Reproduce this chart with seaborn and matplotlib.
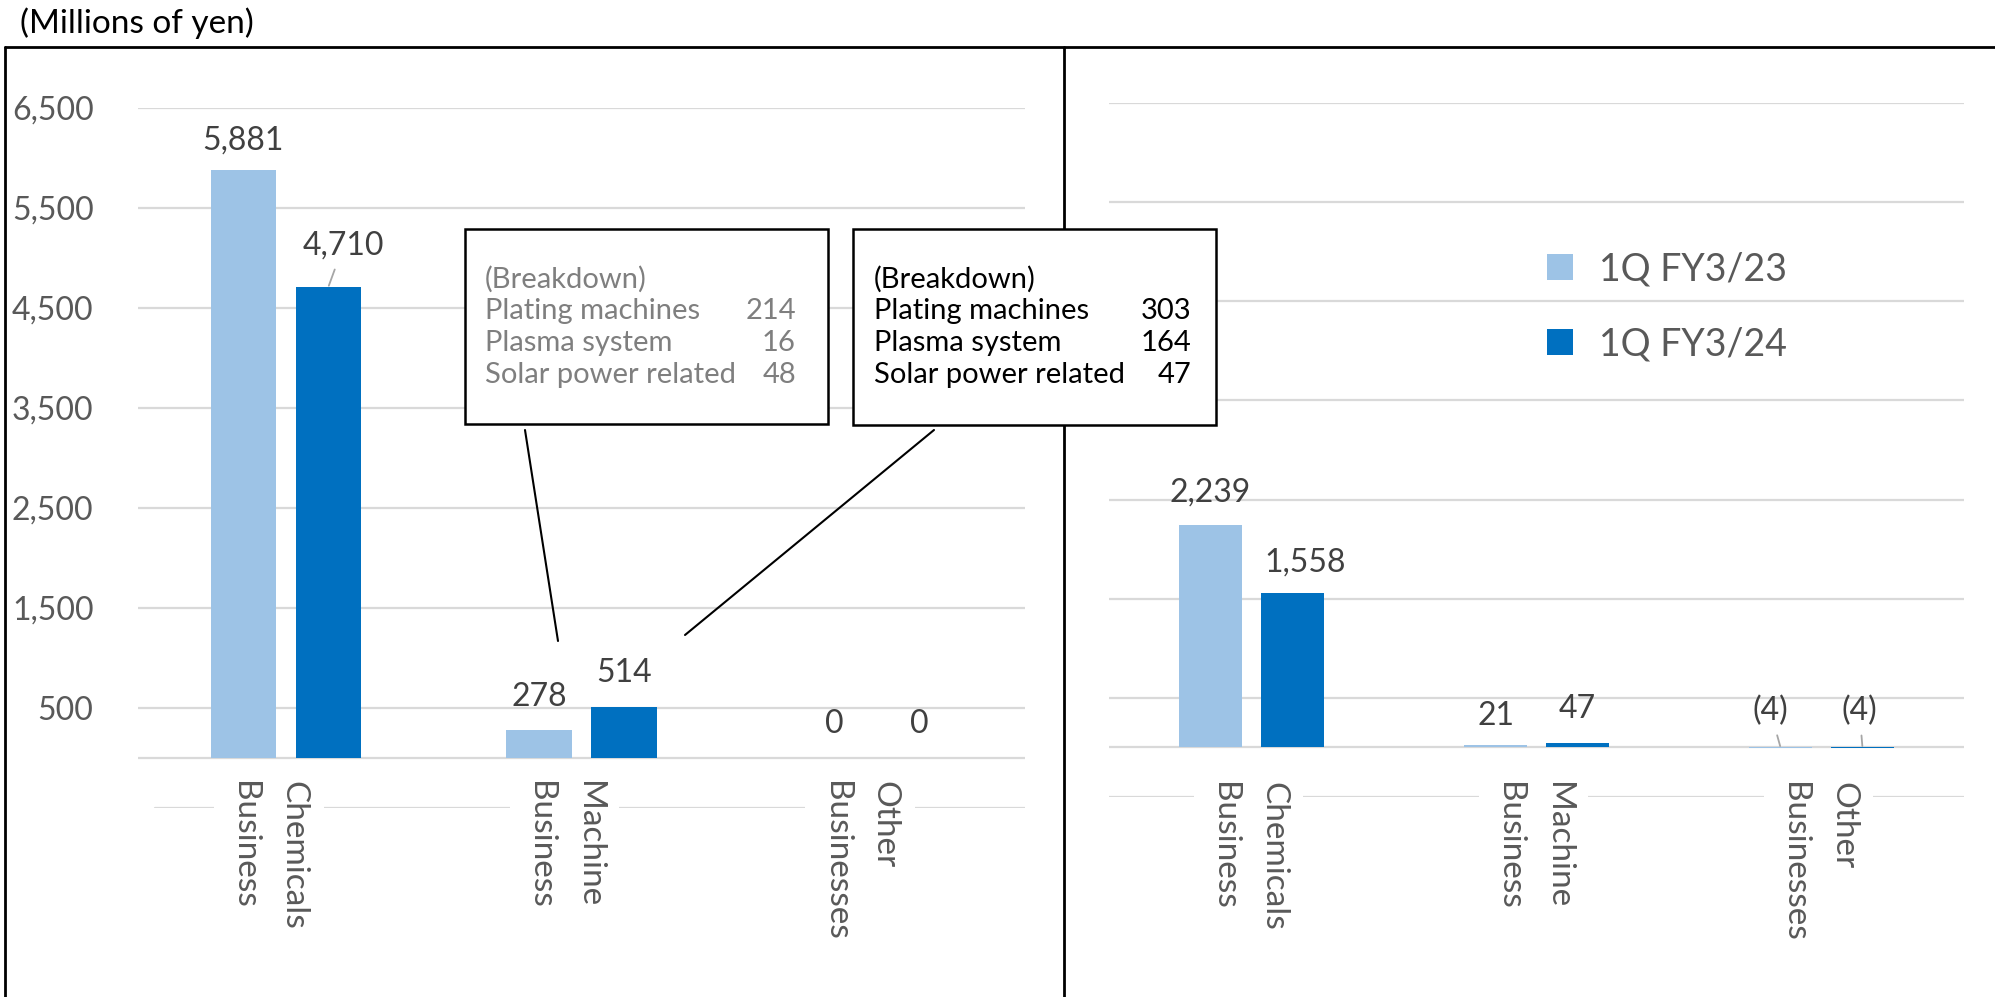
import matplotlib
matplotlib.use("Agg")
import matplotlib.pyplot as plt
from matplotlib.lines import Line2D
from matplotlib.patches import Rectangle
import seaborn as sns
import pandas as pd

# ---------------- data ----------------
segments = ["Chemicals\nBusiness", "Machine\nBusiness", "Other\nBusinesses"]
periods = ["1Q FY3/23", "1Q FY3/24"]
left_prev = [5881, 278, 0]
left_curr = [4710, 514, 0]
right_prev = [2239, 21, -4]
right_curr = [1558, 47, -4]
yticks = [500, 1500, 2500, 3500, 4500, 5500, 6500]
breakdown_items = ["Plating machines", "Plasma system", "Solar power related"]
breakdown_prev = [214, 16, 48]
breakdown_curr = [303, 164, 47]
unit_label = "(Millions of yen)"
breakdown_title = "(Breakdown)"

# ---------------- style ----------------
LIGHT = "#9DC3E6"
DARK = "#0070C0"
GRID = "#D9D9D9"
TICK = "#595959"
LABEL = "#404040"

sns.set_theme(style="white")
plt.rcParams["font.family"] = ["Lato", "DejaVu Sans"]

W, H = 1995, 997
fig = plt.figure(figsize=(W / 100, H / 100), dpi=100)


def px_rect(l, t, r, b):
    return [l / W, 1 - b / H, (r - l) / W, (b - t) / H]


def fx(x):
    return x / W


def fy(y):
    return 1 - y / H


axL = fig.add_axes(px_rect(138, 108, 1025, 808))
axR = fig.add_axes(px_rect(1109, 103, 1964, 797))


def fmt(v):
    return f"({abs(v):,})" if v < 0 else f"{v:,}"


def draw_panel(ax, prev, curr, show_ticks, show_legend, offsets, lower_xmin,
               cat_dx, cat_dy):
    df = pd.DataFrame({
        "segment": segments * 2,
        "period": [periods[0]] * len(segments) + [periods[1]] * len(segments),
        "value": prev + curr,
    })
    sns.barplot(data=df, x="segment", y="value", hue="period",
                order=segments, hue_order=periods, palette=[LIGHT, DARK],
                width=0.575, gap=0.23, linewidth=0, saturation=1,
                errorbar=None, ax=ax, legend=show_legend, zorder=2)
    ax.set_ylim(-500, 6500)
    ax.set_xlim(-0.5, len(segments) - 0.5)
    ax.set_yticks(yticks)
    ax.yaxis.grid(True, color=GRID, lw=1.6)
    ax.xaxis.grid(False)
    ax.set_axisbelow(True)
    for s in ax.spines.values():
        s.set_visible(False)
    ax.set_xlabel("")
    ax.set_ylabel("")
    ax.tick_params(axis="x", length=0, labelbottom=False)
    ax.tick_params(axis="y", length=0, labelleft=show_ticks, labelsize=23,
                   labelcolor=TICK, pad=32)
    if show_ticks:
        ax.set_yticklabels([f"{t:,}" for t in yticks])
    ax.axhline(0, color=GRID, lw=1.6, zorder=1)
    ax.axhline(-500, xmin=lower_xmin, color=GRID, lw=1.6, zorder=1)

    # category labels
    for i, seg in enumerate(segments):
        ax.annotate(seg, xy=(i, -500), xycoords="data",
                    xytext=(cat_dx * 0.72, cat_dy * 0.72), textcoords="offset points",
                    rotation=270, ha="center", va="top", multialignment="left",
                    fontsize=24, color=TICK, linespacing=1.8,
                    bbox=dict(fc="white", ec="none", pad=11),
                    zorder=3, annotation_clip=False)

    # data labels
    values = [prev, curr]
    for j, cont in enumerate(ax.containers):
        for i, patch in enumerate(cont):
            cx = patch.get_x() + patch.get_width() / 2
            top = max(patch.get_y(), patch.get_y() + patch.get_height())
            dx, dy, leader = offsets.get((j, i), (0, -32, False))
            kw = {}
            if leader:
                kw["arrowprops"] = dict(arrowstyle="-", color="#A6A6A6", lw=1.3,
                                        shrinkA=4, shrinkB=1)
            ax.annotate(fmt(values[j][i]), xy=(cx, top), xycoords="data",
                        xytext=(dx * 0.72, -dy * 0.72), textcoords="offset points",
                        ha="center", va="center", fontsize=23, color=LABEL,
                        annotation_clip=False, **kw)


left_offsets = {
    (0, 0): (0, -29, False),
    (1, 0): (15, -41, True),
    (0, 1): (0, -33, False),
    (1, 1): (0, -34, False),
    (0, 2): (0, -34, False),
    (1, 2): (0, -34, False),
}
right_offsets = {
    (0, 0): (0, -33, False),
    (1, 0): (13, -30, False),
    (0, 1): (0, -29, False),
    (1, 1): (0, -34, False),
    (0, 2): (-10, -36, True),
    (1, 2): (-3, -36, True),
}

draw_panel(axL, left_prev, left_curr, True, False, left_offsets,
           (155 - 138) / 887, -17, 27)
draw_panel(axR, right_prev, right_curr, False, True, right_offsets, 0, -3, 15)

# legend
handles, labels = axR.get_legend_handles_labels()
leg = axR.legend(handles, labels, loc="upper left",
                 bbox_to_anchor=(fx(1547), fy(251)), bbox_transform=fig.transFigure,
                 frameon=False, fontsize=27, handlelength=0.69, handleheight=0.69,
                 handletextpad=0.69, labelspacing=1.05, borderpad=0, borderaxespad=0)
for t in leg.get_texts():
    t.set_color(TICK)

# frame lines
frame_kw = dict(color="black", lw=2, transform=fig.transFigure)
fig.add_artist(Line2D([fx(5), fx(5)], [0, fy(47)], **frame_kw))
fig.add_artist(Line2D([fx(5), 1], [fy(47), fy(47)], **frame_kw))
fig.add_artist(Line2D([fx(1064), fx(1064)], [0, fy(47)], **frame_kw))

fig.text(fx(20), fy(23), unit_label, ha="left", va="center", fontsize=24, color="black")


# breakdown boxes
def breakdown_box(l, t, r, b, text_x, num_x, nums, color, line_from, line_to):
    fig.add_artist(Rectangle((fx(l), fy(b)), fx(r - l), (b - t) / H, fill=True,
                             fc="white", ec="black", lw=1.8,
                             transform=fig.transFigure, zorder=5))
    y0 = 279
    step = 32
    fig.text(fx(text_x), fy(y0), breakdown_title, ha="left", va="center",
             fontsize=21, color=color, zorder=6)
    for k, (item, n) in enumerate(zip(breakdown_items, nums)):
        y = y0 + step * (k + 1)
        fig.text(fx(text_x), fy(y), item, ha="left", va="center",
                 fontsize=21, color=color, zorder=6)
        fig.text(fx(num_x), fy(y), f"{n:,}", ha="right", va="center",
                 fontsize=21, color=color, zorder=6)
    fig.add_artist(Line2D([fx(line_from[0]), fx(line_to[0])],
                          [fy(line_from[1]), fy(line_to[1])],
                          color="black", lw=1.5, transform=fig.transFigure))


breakdown_box(465, 229, 828, 424, 485, 796, breakdown_prev, "#7F7F7F",
              (525, 430), (558, 641))
breakdown_box(853, 229, 1216, 425, 874, 1191, breakdown_curr, "black",
              (934, 430), (685, 635))

fig.savefig("out.png", dpi=100)
